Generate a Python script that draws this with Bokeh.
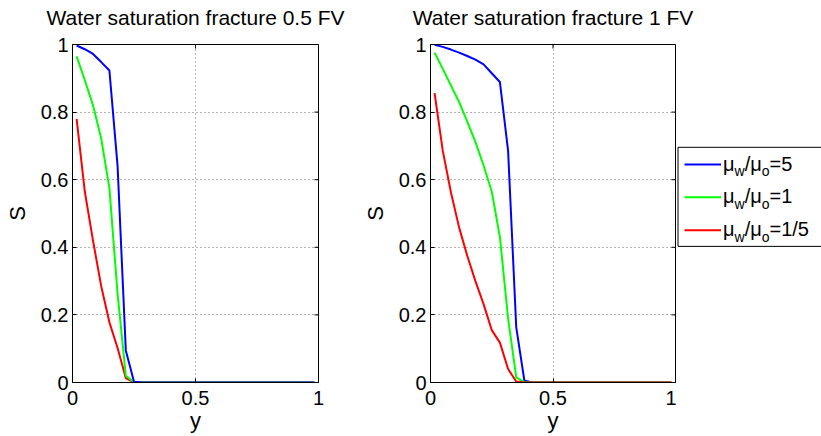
import math
from bokeh.plotting import figure
from bokeh.layouts import row, column
from bokeh.models import Range1d, FixedTicker
from bokeh.embed import file_html
from bokeh.resources import INLINE
from bokeh.core.properties import value

# ---------------- data ----------------
y_pos = [0.0167, 0.05, 0.0833, 0.1167, 0.15, 0.1833, 0.2167, 0.25, 0.2833, 0.3167,
         0.35, 0.3833, 0.4167, 0.45, 0.4833, 0.5167, 0.55, 0.5833, 0.6167, 0.65,
         0.6833, 0.7167, 0.75, 0.7833, 0.8167, 0.85, 0.8833, 0.9167, 0.95, 0.9833]

# fracture 0.5 FV
s05_ratio5 = [0.997, 0.986, 0.972, 0.948, 0.923, 0.640, 0.095, 0.002, 0, 0,
              0, 0, 0, 0, 0, 0, 0, 0, 0, 0, 0, 0, 0, 0, 0, 0, 0, 0, 0, 0]
s05_ratio1 = [0.965, 0.895, 0.820, 0.722, 0.575, 0.262, 0.020, 0.001, 0, 0,
              0, 0, 0, 0, 0, 0, 0, 0, 0, 0, 0, 0, 0, 0, 0, 0, 0, 0, 0, 0]
s05_ratio02 = [0.780, 0.565, 0.420, 0.285, 0.178, 0.102, 0.013, 0.000, 0, 0,
               0, 0, 0, 0, 0, 0, 0, 0, 0, 0, 0, 0, 0, 0, 0, 0, 0, 0, 0, 0]

# fracture 1 FV
s1_ratio5 = [0.999, 0.993, 0.985, 0.976, 0.966, 0.955, 0.941, 0.915, 0.889, 0.686,
             0.163, 0.005, 0, 0, 0, 0, 0, 0, 0, 0, 0, 0, 0, 0, 0, 0, 0, 0, 0, 0]
s1_ratio1 = [0.976, 0.928, 0.879, 0.830, 0.772, 0.712, 0.642, 0.565, 0.430, 0.190,
             0.015, 0.001, 0, 0, 0, 0, 0, 0, 0, 0, 0, 0, 0, 0, 0, 0, 0, 0, 0, 0]
s1_ratio02 = [0.856, 0.686, 0.563, 0.459, 0.375, 0.300, 0.232, 0.155, 0.118, 0.040,
              0.003, 0, 0, 0, 0, 0, 0, 0, 0, 0, 0, 0, 0, 0, 0, 0, 0, 0, 0, 0]

titles = ["Water saturation fracture 0.5 FV", "Water saturation fracture 1 FV"]
ratio_labels = ["5", "1", "1/5"]
colors = ["#0000ff", "#00ff00", "#ff0000"]
x_ticks = [0, 0.5, 1]
x_tick_labels = ["0", "0.5", "1"]
y_ticks = [0, 0.2, 0.4, 0.6, 0.8, 1]
y_tick_labels = ["0", "0.2", "0.4", "0.6", "0.8", "1"]
x_label = "y"
y_label = "S"

FONT = "Liberation Sans"
W_TOTAL = 821
TITLE_H = 30
PANEL_H = 436 - TITLE_H
TOP_B, FRAME_H = 14, 338

# panel geometry: (min_border_left, frame_width, min_border_right)
geo1 = (72, 246, 32)
geo2 = (80, 245, 1)


def make_panel(series, draw_order, geo):
    bl, fw, br = geo
    p = figure(width=bl + fw + br, height=PANEL_H, title=None,
               x_range=Range1d(0, 1), y_range=Range1d(0, 1),
               output_backend="svg", toolbar_location=None,
               min_border_left=bl, min_border_right=br,
               min_border_top=TOP_B, min_border_bottom=PANEL_H - TOP_B - FRAME_H)

    p.xaxis.ticker = FixedTicker(ticks=x_ticks)
    p.yaxis.ticker = FixedTicker(ticks=y_ticks)
    p.xaxis.major_label_overrides = {t: l for t, l in zip(x_ticks, x_tick_labels)}
    p.yaxis.major_label_overrides = {t: l for t, l in zip(y_ticks, y_tick_labels)}
    p.xaxis.axis_label = x_label
    p.yaxis.axis_label = y_label
    for ax in (p.xaxis, p.yaxis):
        ax.major_label_text_font = FONT
        ax.major_label_text_font_size = "20px"
        ax.major_label_text_color = "black"
        ax.axis_label_text_font = FONT
        ax.axis_label_text_font_size = "22px"
        ax.axis_label_text_font_style = "normal"
        ax.axis_label_text_color = "black"
        ax.major_tick_in = 4
        ax.major_tick_out = 0
        ax.minor_tick_line_color = None
        ax.axis_line_color = "black"
        ax.axis_line_width = 1
        ax.major_tick_line_color = "black"
    p.xaxis.major_label_standoff = 8
    p.xaxis.axis_label_standoff = 0
    p.yaxis.major_label_standoff = 4
    p.yaxis.axis_label_standoff = 8

    for g in (p.xgrid, p.ygrid):
        g.grid_line_color = "#444444"
        g.grid_line_dash = "1 3"
        g.grid_line_width = 1
        g.grid_line_alpha = 0.8

    p.outline_line_color = "black"
    p.outline_line_width = 1
    p.outline_line_alpha = 1

    # inward ticks on top and right edges
    p.ray(x=[1] * len(y_ticks), y=y_ticks, length=4, length_units="screen",
          angle=math.pi, line_color="black", line_width=1)
    p.ray(x=x_ticks, y=[1] * len(x_ticks), length=4, length_units="screen",
          angle=-math.pi / 2, line_color="black", line_width=1)

    for i in draw_order:
        p.line(y_pos, series[i], line_color=colors[i], line_width=2)
    return p


p1 = make_panel([s05_ratio5, s05_ratio1, s05_ratio02], [2, 1, 0], geo1)
p2 = make_panel([s1_ratio5, s1_ratio1, s1_ratio02], [0, 1, 2], geo2)

# ---------------- title band (pixel coordinates) ----------------
w1 = sum(geo1)
w2 = sum(geo2)
title_cx = [geo1[0] + geo1[1] / 2, w1 + geo2[0] + geo2[1] / 2]
tb = figure(width=W_TOTAL, height=TITLE_H, title=None, x_range=Range1d(0, W_TOTAL),
            y_range=Range1d(TITLE_H, 0), output_backend="svg", toolbar_location=None,
            x_axis_type=None, y_axis_type=None, min_border=0)
tb.grid.visible = False
tb.outline_line_color = None
tb.text(x=title_cx, y=[17, 17], text=titles, text_font=value(FONT),
        text_font_size="21px", text_color="black",
        text_baseline="middle", text_align="center")

# ---------------- legend (own small canvas, pixel coordinates) ----------------
LW = W_TOTAL - w1 - w2
leg = figure(width=LW, height=PANEL_H, title=None, x_range=Range1d(0, LW),
             y_range=Range1d(436, TITLE_H),
             output_backend="svg", toolbar_location=None,
             x_axis_type=None, y_axis_type=None, min_border=0)
leg.grid.visible = False
leg.outline_line_color = None

box_left, box_top, box_bottom = 1.5, 153.5, 272.5
leg.segment(x0=[box_left, box_left, box_left], y0=[box_top, box_top, box_bottom],
            x1=[LW + 5, box_left, LW + 5], y1=[box_top, box_bottom, box_bottom],
            line_color="black", line_width=1)

# approximate Arial advance widths (per 1000 em)
adv = {"μ": 576, "w": 722, "/": 278, "o": 556, "=": 584, "5": 556, "1": 556}
main_size, sub_size = 20, 14
entry_y = [174, 213.5, 253]
line_x0, line_x1, text_x = 8, 44.5, 46.5
for i, lab in enumerate(ratio_labels):
    ly = entry_y[i]
    leg.line([line_x0, line_x1], [ly, ly], line_color=colors[i], line_width=2)
    mid = ly - 1
    sub_mid = ly + 8
    pieces = [("μ", main_size, mid), ("w", sub_size, sub_mid), ("/", main_size, mid),
              ("μ", main_size, mid), ("o", sub_size, sub_mid), ("=" + lab, main_size, mid)]
    x = text_x
    for txt, size, yb in pieces:
        leg.text(x=[x], y=[yb], text=[txt], text_font=value(FONT),
                 text_font_size=f"{size}px", text_color="black",
                 text_baseline="middle", text_align="left")
        x += sum(adv.get(c, 556) for c in txt) * size / 1000.0

layout = column(tb, row(p1, p2, leg))
open("out.html", "w").write(file_html(layout, INLINE))
